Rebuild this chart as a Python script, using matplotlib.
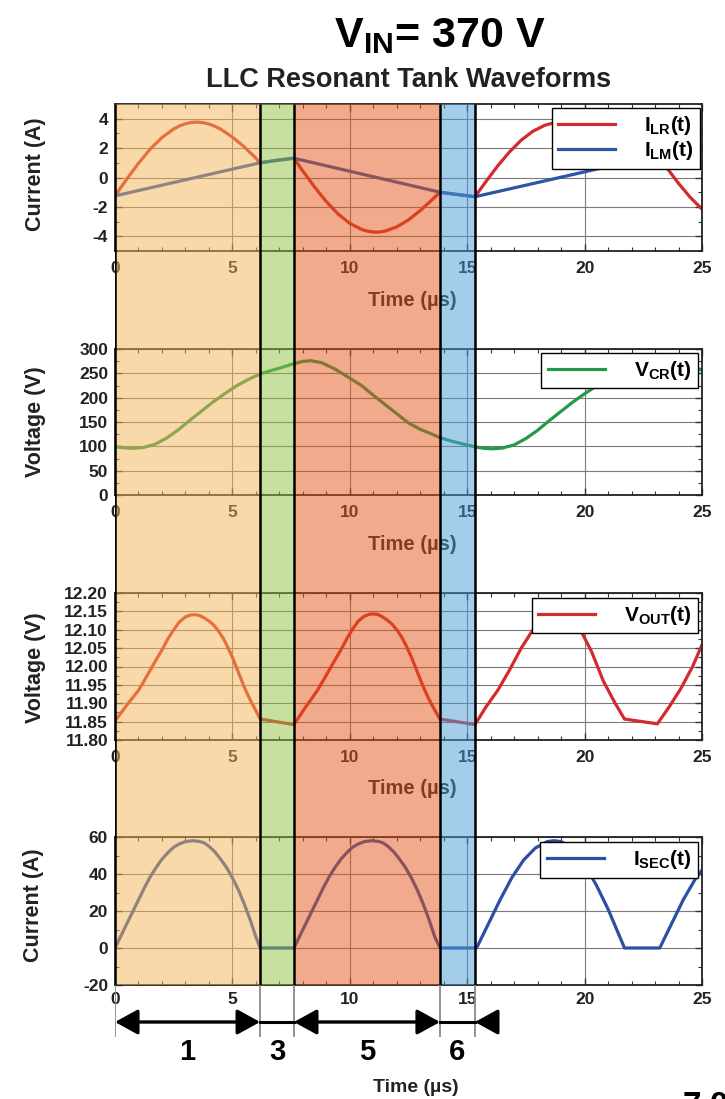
import numpy as np
import matplotlib
matplotlib.use("Agg")
import matplotlib.pyplot as plt
from matplotlib.ticker import MultipleLocator, AutoMinorLocator
from matplotlib.patches import ArrowStyle

plt.rcParams['font.family'] = ['Liberation Sans', 'DejaVu Sans']
plt.rcParams['font.weight'] = 'bold'
plt.rcParams['axes.unicode_minus'] = False
plt.rcParams['mathtext.fontset'] = 'custom'
plt.rcParams['mathtext.rm'] = 'Liberation Sans:bold'
plt.rcParams['mathtext.it'] = 'Liberation Sans:bold'
plt.rcParams['mathtext.bf'] = 'Liberation Sans:bold'

# ---------------- data (time in microseconds) ----------------
t_ilr = [0, 0.25, 0.5, 1.0, 1.5, 2.0, 2.5, 2.75, 3.0, 3.25, 3.5, 3.75, 4.0, 4.25, 4.5,
         5.0, 5.5, 5.75, 5.9, 6.18,
         6.6, 7.0, 7.3, 7.62,
         8.0, 8.5, 9.0, 9.5, 10.0, 10.5, 10.75, 11.0, 11.25, 11.5, 12.0, 12.5, 13.0,
         13.5, 13.84,
         14.2, 14.6, 15.0, 15.33,
         15.8, 16.3, 16.8, 17.3, 17.8, 18.3, 18.55, 18.8, 19.05, 19.3, 19.8, 20.3,
         20.8, 21.3, 21.7,
         22.1, 22.5, 22.9, 23.2, 23.6, 24.0, 24.5, 25.0]
ilr = [-1.25, -0.68, -0.11, 0.97, 1.93, 2.72, 3.30, 3.51, 3.66, 3.74, 3.77, 3.73, 3.64,
       3.49, 3.29, 2.75, 2.09, 1.70, 1.48, 1.0,
       1.1, 1.19, 1.25, 1.31,
       0.44, -0.65, -1.64, -2.48, -3.12, -3.53, -3.65, -3.71, -3.71, -3.65, -3.36,
       -2.88, -2.25, -1.52, -1.0,
       -1.08, -1.16, -1.24, -1.31,
       -0.27, 0.79, 1.74, 2.54, 3.15, 3.55, 3.66, 3.71, 3.71, 3.65, 3.37, 2.92,
       2.31, 1.60, 1.0,
       1.09, 1.17, 1.24, 1.30, 0.45, -0.40, -1.35, -2.15]

t_ilm = [0, 6.18, 6.6, 7.0, 7.3, 7.62, 13.84, 14.2, 14.6, 15.0, 15.33,
         21.7, 22.1, 22.5, 22.9, 23.2, 25.0]
ilm = [-1.25, 1.0, 1.1, 1.19, 1.25, 1.31, -1.0, -1.08, -1.16, -1.24, -1.31,
       1.0, 1.09, 1.17, 1.24, 1.30, 0.63]

t_vcr = [0, 0.4, 0.8, 1.2, 1.7, 2.2, 2.7, 3.2, 3.7, 4.2, 4.7, 5.2, 5.7, 6.2,
         6.6, 7.1, 7.62, 8.0, 8.33, 8.8, 9.4, 10.0, 10.5, 11.0, 11.5, 12.0, 12.5,
         13.0, 13.5, 13.84, 14.3, 14.8, 15.33,
         15.7, 16.1, 16.5, 17.0, 17.5, 18.0, 18.5, 19.0, 19.5, 20.0, 20.5, 21.0,
         21.5, 22.0, 22.5, 23.1, 23.5, 23.9, 24.4, 25.0]
vcr = [99, 97, 96, 97.5, 104, 117, 134, 154, 173, 192, 209, 225, 238, 249,
       255, 262, 270, 274.5, 276, 272, 258, 240, 225, 205, 186, 167, 148,
       135, 125, 118, 111, 105, 99,
       96, 95, 96.5, 103, 116, 133, 153, 172, 191, 208, 224, 237,
       248, 256, 263, 271, 275, 276, 271, 256]

t_vout = [0, 0.25, 0.5, 0.75, 1.0, 1.25, 1.5, 1.75, 2.0, 2.25, 2.5, 2.75, 3.0, 3.2, 3.4,
          3.6, 3.8, 4.0, 4.2, 4.4, 4.6, 4.8, 5.0, 5.25, 5.5, 5.75, 6.0, 6.18,
          7.62, 7.87, 8.12, 8.37, 8.62, 8.87, 9.12, 9.37, 9.62, 9.87, 10.12, 10.37,
          10.62, 10.82, 11.02, 11.22, 11.42, 11.62, 11.82, 12.02, 12.22, 12.42, 12.62,
          12.87, 13.12, 13.37, 13.62, 13.84,
          15.33, 15.8, 16.3, 16.8, 17.3, 17.8, 18.3, 18.7, 19.1, 19.5, 19.9, 20.3,
          20.8, 21.3, 21.7, 23.1, 23.6, 24.1, 24.6, 25.0]
vout = [11.852, 11.873, 11.895, 11.915, 11.935, 11.962, 11.99, 12.018, 12.045, 12.075,
        12.100, 12.122, 12.135, 12.140, 12.141, 12.139, 12.132, 12.124, 12.113, 12.097,
        12.078, 12.053, 12.025, 11.985, 11.945, 11.91, 11.88, 11.857,
        11.842, 11.866, 11.89, 11.912, 11.935, 11.962, 11.99, 12.018, 12.045, 12.075,
        12.102, 12.124, 12.137, 12.142, 12.143, 12.141, 12.134, 12.125, 12.114, 12.098,
        12.079, 12.054, 12.026, 11.986, 11.946, 11.911, 11.881, 11.857,
        11.842, 11.89, 11.935, 11.99, 12.05, 12.10, 12.13, 12.141, 12.132, 12.115,
        12.09, 12.04, 11.96, 11.90, 11.857, 11.844, 11.89, 11.94, 12.00, 12.059]

t_isec = [0, 0.25, 0.5, 0.75, 1.0, 1.25, 1.5, 1.75, 2.0, 2.25, 2.5, 2.75, 3.0, 3.3,
          3.6, 3.8, 4.0, 4.25, 4.5, 4.75, 5.0, 5.25, 5.5, 5.75, 6.0, 6.18,
          7.62, 7.87, 8.12, 8.37, 8.62, 8.87, 9.12, 9.37, 9.62, 9.87, 10.12, 10.37,
          10.62, 10.92, 11.22, 11.42, 11.62, 11.87, 12.12, 12.37, 12.62, 12.87, 13.12,
          13.37, 13.62, 13.84,
          15.4, 15.9, 16.4, 16.9, 17.4, 17.9, 18.4, 18.7, 19.0, 19.5, 20.0, 20.5,
          21.0, 21.5, 21.7, 23.2, 23.7, 24.2, 24.7, 25.0]
isec = [0, 6.5, 13, 19.5, 26, 32.5, 38.5, 43.5, 48, 51.5, 54.5, 56.3, 57.5, 58,
        57.6, 56.8, 55, 52, 48, 43.5, 38, 31.5, 24, 15.5, 6, 0,
        0, 6.5, 13, 19.5, 26, 32.5, 38.5, 43.5, 48, 51.5, 54.5, 56.3,
        57.5, 58, 57.6, 56.8, 55, 52, 48, 43.5, 38, 31.5, 24,
        15.5, 6, 0,
        0, 13, 26, 38, 47.5, 54, 57.5, 58, 57.5, 54, 45, 34,
        21, 6, 0, 0, 13, 26, 37, 42]

mode_edges = [0, 6.18, 7.62, 13.84, 15.33]
mode_colors = ['#F5B555', '#91C341', '#E5561A', '#4A9BD8']
mode_labels = ['1', '3', '5', '6']

# ---------------- layout ----------------
W, H = 725, 1099
def fx(p):
    return p / W
def fy(p):
    return 1 - p / H

fig = plt.figure(figsize=(W / 100, H / 100), dpi=100)
fig.patch.set_facecolor('white')

L, R = 115, 702
panels = [(104, 251), (349, 495), (593, 740), (837, 985)]
axes = []
for top, bot in panels:
    ax = fig.add_axes([fx(L), fy(bot), (R - L) / W, (bot - top) / H])
    axes.append(ax)

red = '#D42A2E'
blue = '#2A55A8'
green = '#23994A'
tick_col = '#222222'

def style(ax, ylim, ymajor, yfmt=None):
    ax.set_xlim(0, 25)
    ax.set_ylim(*ylim)
    ax.xaxis.set_major_locator(MultipleLocator(5))
    ax.xaxis.set_minor_locator(MultipleLocator(1))
    ax.yaxis.set_major_locator(MultipleLocator(ymajor))
    ax.yaxis.set_minor_locator(AutoMinorLocator(2))
    ax.grid(True, which='major', color='#7a7a7a', lw=0.8)
    ax.set_axisbelow(True)
    ax.tick_params(which='both', direction='in', top=True, right=True,
                   colors='#333333', labelcolor=tick_col, labelsize=12.5)
    ax.tick_params(which='major', length=5, width=1)
    ax.tick_params(which='minor', length=3, width=0.8)
    ax.tick_params(axis='x', pad=7)
    ax.tick_params(axis='y', pad=5)
    for s in ax.spines.values():
        s.set_color('#222222')
        s.set_linewidth(1.3)
    for lab in ax.get_xticklabels() + ax.get_yticklabels():
        lab.set_fontweight('bold')
    if yfmt:
        ax.yaxis.set_major_formatter(yfmt)

leg_kw = dict(loc='upper right', fontsize=15, handlelength=2.75, handletextpad=1.4,
              borderpad=0.3, labelspacing=0.1, frameon=True, fancybox=False,
              framealpha=1, edgecolor='black', borderaxespad=0)

# Panel 1
ax = axes[0]
ax.plot(t_ilr, ilr, color=red, lw=2.3, label=r'I$_{\mathrm{LR}}$(t)')
ax.plot(t_ilm, ilm, color=blue, lw=2.3, label=r'I$_{\mathrm{LM}}$(t)')
style(ax, (-5, 5), 2)
lg = ax.legend(bbox_to_anchor=(0.9966, 0.973), **leg_kw)
lg.get_frame().set_linewidth(1.0)

# Panel 2
ax = axes[1]
ax.plot(t_vcr, vcr, color=green, lw=2.3, label=r'V$_{\mathrm{CR}}$(t)')
style(ax, (0, 300), 50)
lg = ax.legend(bbox_to_anchor=(0.993, 0.973), **leg_kw)
lg.get_frame().set_linewidth(1.0)

# Panel 3
ax = axes[2]
ax.plot(t_vout, vout, color=red, lw=2.3, label=r'V$_{\mathrm{OUT}}$(t)')
style(ax, (11.80, 12.20), 0.05, plt.FormatStrFormatter('%.2f'))
lg = ax.legend(bbox_to_anchor=(0.993, 0.966), **leg_kw)
lg.get_frame().set_linewidth(1.0)

# Panel 4
ax = axes[3]
ax.plot(t_isec, isec, color='#2C4FA5', lw=2.3, label=r'I$_{\mathrm{SEC}}$(t)')
style(ax, (-20, 60), 20)
ax.tick_params(axis='x', pad=5)
lg = ax.legend(bbox_to_anchor=(0.993, 0.966), **leg_kw)
lg.get_frame().set_linewidth(1.0)

# x labels for panels 1-3 (centre ~49 px below each panel)
for (top, bot), ax in zip(panels[:3], axes[:3]):
    ax.set_xlabel('Time (µs)', fontsize=14.5, fontweight='bold', color=tick_col)
    ax.xaxis.set_label_coords(0.5 + (412 - 408.5) / (R - L), -49.0 / (bot - top))
    ax.xaxis.label.set_va('center')

# y labels
ylabels = ['Current (A)', 'Voltage (V)', 'Voltage (V)', 'Current (A)']
ylab_y = [174, 422, 668, 905]
ylab_x = [36, 36, 36, 34]
for txt, yy, xx in zip(ylabels, ylab_y, ylab_x):
    fig.text(fx(xx), fy(yy), txt, rotation=90, ha='center', va='center',
             fontsize=15.5, fontweight='bold', color=tick_col)

# titles
fig.text(fx(440), fy(36), r'V$_{\mathrm{IN}}$= 370 V', ha='center', va='center',
         fontsize=31, fontweight='bold', color='black')
fig.text(fx(409), fy(80), 'LLC Resonant Tank Waveforms', ha='center', va='center',
         fontsize=19.5, fontweight='bold', color='#222222')

# bottom time label
fig.text(fx(416), fy(1087), 'Time (µs)', ha='center', va='center',
         fontsize=14, fontweight='bold', color=tick_col)
fig.text(fx(683), fy(1091), '7.0', ha='left', va='top', fontsize=24,
         fontweight='bold', color='black')

# ---------------- overlay: mode bands, edges, arrows ----------------
ov = fig.add_axes([fx(L), 0, (R - L) / W, 1], zorder=20)
ov.set_xlim(0, 25)
ov.set_ylim(H, 0)
ov.axis('off')
ov.patch.set_alpha(0)

for i in range(4):
    ov.fill_between([mode_edges[i], mode_edges[i + 1]], 104, 985,
                    color=mode_colors[i], alpha=0.5, lw=0)
ov.vlines(mode_edges, 104, 985, color='black', lw=1.8)
ov.vlines(mode_edges, 985, 1037, color='#8a8a8a', lw=1.3)

ay = 1022
style_dbl = ArrowStyle('<|-|>', head_length=1.0, head_width=0.55)
style_r = ArrowStyle('-|>', head_length=1.0, head_width=0.55)
for a, b in [(mode_edges[0], mode_edges[1]), (mode_edges[2], mode_edges[3])]:
    ov.annotate('', xy=(b, ay), xytext=(a, ay),
                arrowprops=dict(arrowstyle=style_dbl, mutation_scale=14, lw=2.4,
                                color='black', shrinkA=0, shrinkB=0))
for a, b in [(mode_edges[1], mode_edges[2]), (mode_edges[3], mode_edges[4])]:
    ov.plot([a, b], [ay, ay], color='black', lw=2.2)
# start of the next arrow: head pointing left, tip at the last edge
ov.annotate('', xy=(mode_edges[4], ay), xytext=(mode_edges[4] + 0.8, ay),
            arrowprops=dict(arrowstyle=style_r, mutation_scale=14, lw=2.4,
                            color='black', shrinkA=0, shrinkB=0))

for i, lab in enumerate(mode_labels):
    mid = 0.5 * (mode_edges[i] + mode_edges[i + 1])
    ov.text(mid, 1052, lab, ha='center', va='center', fontsize=21,
            fontweight='bold', color='black')

fig.savefig('out.png', dpi=100, facecolor='white')
